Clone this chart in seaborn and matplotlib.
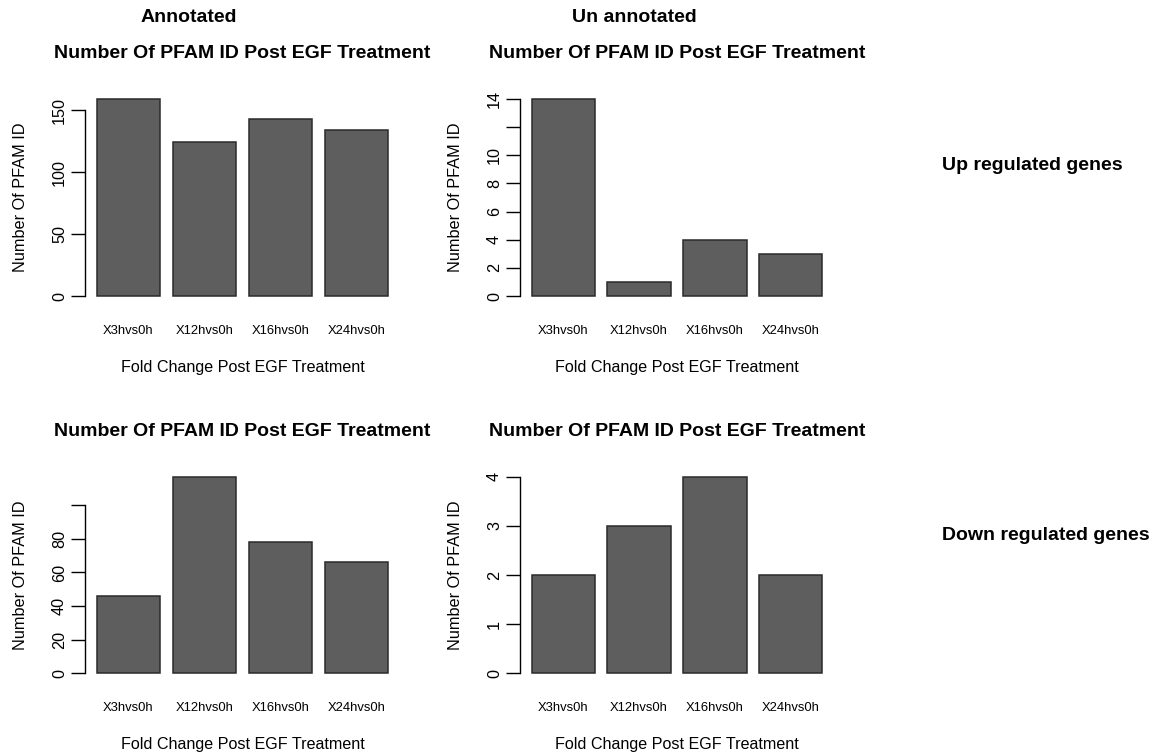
import matplotlib
matplotlib.use("Agg")
import matplotlib.pyplot as plt
import seaborn as sns
import pandas as pd

sns.set_theme(style="white")
plt.rcParams["font.family"] = ["Liberation Sans", "DejaVu Sans"]
plt.rcParams["text.color"] = "black"
plt.rcParams["axes.labelcolor"] = "black"
plt.rcParams["xtick.color"] = "black"
plt.rcParams["ytick.color"] = "black"

# Comparisons of each EGF time point against 0 h
comparisons = ["X3hvs0h", "X12hvs0h", "X16hvs0h", "X24hvs0h"]

# PFAM ID counts per comparison
up_annotated = [159, 124, 143, 134]
up_unannotated = [14, 1, 4, 3]
down_annotated = [46, 117, 78, 66]
down_unannotated = [2, 3, 4, 2]

# y-axis ticks per panel (axis line runs from first to last tick)
ticks_up_annotated = [0, 50, 100, 150]
ticks_up_unannotated = [0, 2, 4, 6, 8, 10, 12, 14]
labels_up_unannotated = ["0", "2", "4", "6", "8", "10", "", "14"]
ticks_down_annotated = [0, 20, 40, 60, 80, 100]
labels_down_annotated = ["0", "20", "40", "60", "80", ""]
ticks_down_unannotated = [0, 1, 2, 3, 4]

title = "Number Of PFAM ID Post EGF Treatment"
xlab = "Fold Change Post EGF Treatment"
ylab = "Number Of PFAM ID"

W, H = 1156, 755
fig = plt.figure(figsize=(W / 100, H / 100), dpi=100)

def px_axes(x0, y0, x1, y1):
    return fig.add_axes([x0 / W, 1 - y1 / H, (x1 - x0) / W, (y1 - y0) / H])

panels = [
    (px_axes(85, 91, 400, 304), up_annotated, ticks_up_annotated, None),
    (px_axes(520, 91, 834, 304), up_unannotated, ticks_up_unannotated, labels_up_unannotated),
    (px_axes(85, 469, 400, 681), down_annotated, ticks_down_annotated, labels_down_annotated),
    (px_axes(520, 469, 834, 681), down_unannotated, ticks_down_unannotated, None),
]

for ax, values, yticks, ylabels in panels:
    df = pd.DataFrame({"comparison": comparisons, "count": values})
    sns.barplot(data=df, x="comparison", y="count", ax=ax, color="#5e5e5e",
                saturation=1, width=1 / 1.2, edgecolor="#2b2b2b", linewidth=1.1)
    vmax = max(values)
    ax.set_ylim(-0.04 * vmax, 1.04 * vmax)
    ax.set_xlim(-0.57, 3.57)
    for s in ["top", "right", "bottom"]:
        ax.spines[s].set_visible(False)
    ax.spines["left"].set_color("black")
    ax.spines["left"].set_linewidth(1.0)
    ax.spines["left"].set_bounds(yticks[0], yticks[-1])
    ax.set_yticks(yticks)
    if ylabels is not None:
        ax.set_yticklabels(ylabels)
    ax.tick_params(axis="y", left=True, length=10, width=1.0, color="black",
                   pad=3, labelsize=11.7, labelrotation=90)
    for lbl in ax.get_yticklabels():
        lbl.set_verticalalignment("center")
    ax.tick_params(axis="x", bottom=False, length=0, pad=15, labelsize=9.4)
    ax.set_title(title, fontsize=14, fontweight="bold", pad=24)
    ax.set_xlabel(xlab, fontsize=11.6)
    ax.set_ylabel(ylab, fontsize=11.7)
    ax.xaxis.set_label_coords(0.5, -0.265)
    ax.yaxis.set_label_coords(-0.18, 0.5)
    ax.grid(False)

# Column and row headings
fig.text(189 / W, 1 - 18 / H, "Annotated", ha="center", va="center",
         fontsize=14, fontweight="bold")
fig.text(634 / W, 1 - 18 / H, "Un annotated", ha="center", va="center",
         fontsize=14, fontweight="bold")
fig.text(942 / W, 1 - 166 / H, "Up regulated genes", ha="left", va="center",
         fontsize=14, fontweight="bold")
fig.text(942 / W, 1 - 536 / H, "Down regulated genes", ha="left", va="center",
         fontsize=14, fontweight="bold")

fig.savefig("out.png", dpi=100, facecolor="white")
